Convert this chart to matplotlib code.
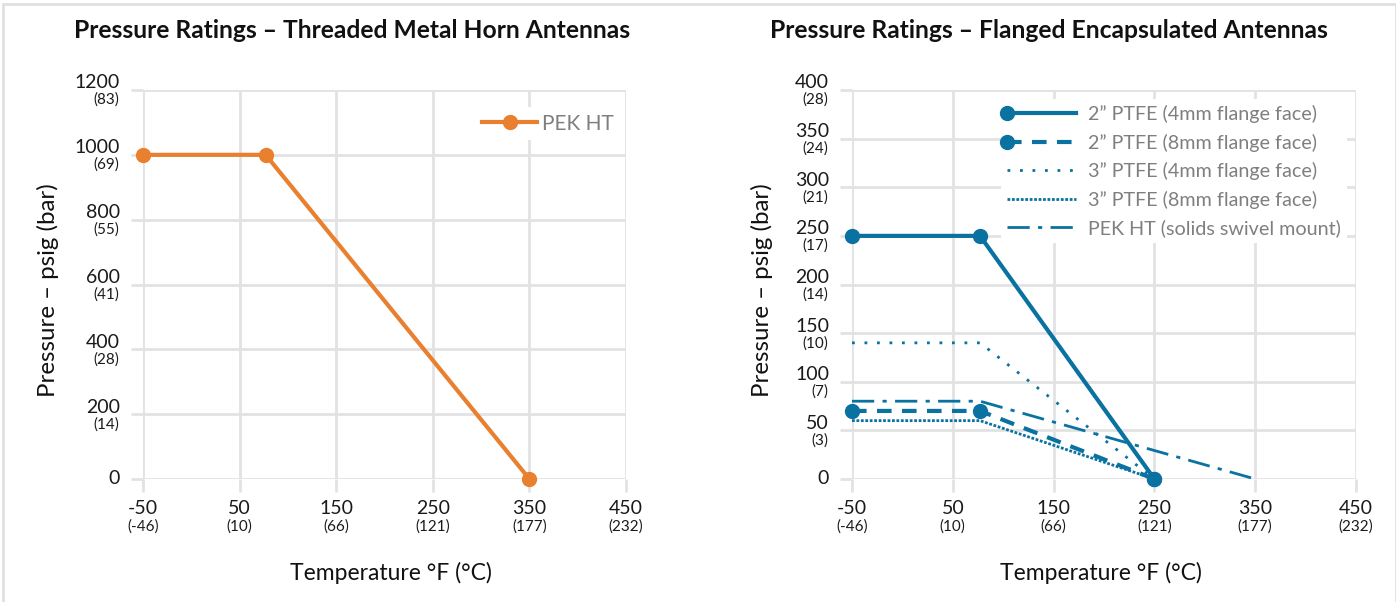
import matplotlib
matplotlib.use("Agg")
import matplotlib.pyplot as plt
import matplotlib.transforms as mtransforms
from matplotlib.legend_handler import HandlerLine2D
from matplotlib.patches import Rectangle

plt.rcParams['font.family'] = ['Lato', 'DejaVu Sans']

# x axis (deg F) and converted deg C labels
temp_f = [-50, 50, 150, 250, 350, 450]
temp_c = ['(-46)', '(10)', '(66)', '(121)', '(177)', '(232)']

# left chart: threaded metal horn
left_yticks = [0, 200, 400, 600, 800, 1000, 1200]
left_ybar = ['', '(14)', '(28)', '(41)', '(55)', '(69)', '(83)']
pek_x = [-50, 77, 350]
pek_y = [1000, 1000, 0]

# right chart: flanged encapsulated
right_yticks = [0, 50, 100, 150, 200, 250, 300, 350, 400]
right_ybar = ['', '(3)', '(7)', '(10)', '(14)', '(17)', '(21)', '(24)', '(28)']
ptfe2_4_x = [-50, 77, 250]
ptfe2_4_y = [250, 250, 0]
ptfe2_8_x = [-50, 77, 250]
ptfe2_8_y = [70, 70, 0]
ptfe3_4_x = [-50, 77, 250]
ptfe3_4_y = [140, 140, 0]
ptfe3_8_x = [-50, 77, 250]
ptfe3_8_y = [60, 60, 0]
pekss_x = [-50, 77, 350]
pekss_y = [80, 80, 0]

ORANGE = '#E9802F'
BLUE = '#0A72A0'
GRID = '#E2E2E4'

fig = plt.figure(figsize=(13.96, 6.02), dpi=100)


def px(dx, dy):
    return mtransforms.ScaledTranslation(dx / 100, dy / 100, fig.dpi_scale_trans)


class LeftMarker(HandlerLine2D):
    # put the legend marker at the left end of the handle line
    def create_artists(self, legend, orig_handle, xdescent, ydescent, width,
                       height, fontsize, trans):
        arts = super().create_artists(legend, orig_handle, xdescent, ydescent,
                                      width, height, fontsize, trans)
        for a in arts:
            a.set_markevery([0])
        return arts


def setup(ax, yticks, ybar, ymax):
    ax.set_xlim(-50, 450)
    ax.set_ylim(0, ymax)
    ax.set_xticks(temp_f)
    ax.set_yticks(yticks)
    ax.set_xticklabels([])
    ax.set_yticklabels([])
    for s in ax.spines.values():
        s.set_visible(False)
    ax.grid(True, color=GRID, linewidth=2, zorder=0)
    ax.tick_params(length=9, width=2, color=GRID)
    ax.set_axisbelow(True)
    xt = ax.get_xaxis_transform()
    for v, c in zip(temp_f, temp_c):
        ax.text(v, 0, str(v), transform=xt + px(0, -30), ha='center', va='center',
                fontsize=14, color='#1a1a1a')
        ax.text(v, 0, c, transform=xt + px(0, -48), ha='center', va='center',
                fontsize=11, color='#1a1a1a')
    yt = ax.get_yaxis_transform()
    for v, c in zip(yticks, ybar):
        if c:
            ax.text(0, v, str(v), transform=yt + px(-23, 7), ha='right', va='center',
                    fontsize=14, color='#1a1a1a')
            ax.text(0, v, c, transform=yt + px(-24, -10), ha='right', va='center',
                    fontsize=11, color='#1a1a1a')
        else:
            ax.text(0, v, str(v), transform=yt + px(-23, 0), ha='right', va='center',
                    fontsize=14, color='#1a1a1a')


# left panel
ax1 = fig.add_axes([143 / 1396, 1 - 479 / 602, 483 / 1396, 389 / 602])
setup(ax1, left_yticks, left_ybar, 1200)
ax1.plot(pek_x, pek_y, color=ORANGE, lw=3, marker='o', ms=10, label='PEK HT',
         clip_on=False, zorder=3)
leg1 = ax1.legend(loc='upper right', bbox_to_anchor=(1.01, 0.982), frameon=True,
                  facecolor='white', edgecolor='none', framealpha=1, fontsize=15,
                  handlelength=2.64, handletextpad=0.25, numpoints=1, borderpad=0.3)
for t in leg1.get_texts():
    t.set_color('#7f7f7f')

# right panel
ax2 = fig.add_axes([852 / 1396, 1 - 479 / 602, 504 / 1396, 389 / 602])
setup(ax2, right_yticks, right_ybar, 400)
h1, = ax2.plot(ptfe2_4_x, ptfe2_4_y, color=BLUE, lw=3, marker='o', ms=10,
               clip_on=False, zorder=4, label='2\u201d PTFE (4mm flange face)')
h2, = ax2.plot(ptfe2_8_x, ptfe2_8_y, color=BLUE, lw=3, marker='o', ms=10,
               ls=(0, (3.5, 2.5)), clip_on=False, zorder=4,
               label='2\u201d PTFE (8mm flange face)')
h3, = ax2.plot(ptfe3_4_x, ptfe3_4_y, color=BLUE, lw=2, ls=(0, (1, 3.5)),
               zorder=3, label='3\u201d PTFE (4mm flange face)')
h4, = ax2.plot(ptfe3_8_x, ptfe3_8_y, color=BLUE, lw=2, ls=(0, (1, 0.6)),
               zorder=3, label='3\u201d PTFE (8mm flange face)')
h5, = ax2.plot(pekss_x, pekss_y, color=BLUE, lw=2, ls=(0, (8, 3, 1.5, 3)),
               zorder=3, label='PEK HT (solids swivel mount)')
leg2 = ax2.legend(handles=[h1, h2, h3, h4, h5], loc='upper right',
                  bbox_to_anchor=(1.002, 1.002), frameon=True, facecolor='white',
                  edgecolor='none', framealpha=1, fontsize=14.2, handlelength=3.5,
                  handletextpad=0.65, numpoints=1, labelspacing=0.53, borderpad=0.3,
                  handler_map={h1: LeftMarker(), h2: LeftMarker()})
leg2.set_zorder(2.5)
for t in leg2.get_texts():
    t.set_color('#7f7f7f')

# titles and axis labels
fig.text(352 / 1396, 1 - 30 / 602, 'Pressure Ratings \u2013 Threaded Metal Horn Antennas',
         ha='center', va='center', fontsize=17.7, fontweight='bold', color='#111111')
fig.text(1049 / 1396, 1 - 30 / 602, 'Pressure Ratings \u2013 Flanged Encapsulated Antennas',
         ha='center', va='center', fontsize=17.7, fontweight='bold', color='#111111')
fig.text(48 / 1396, 1 - 290 / 602, 'Pressure \u2013 psig (bar)', rotation=90,
         ha='center', va='center', fontsize=17.3, color='#111111')
fig.text(762 / 1396, 1 - 290 / 602, 'Pressure \u2013 psig (bar)', rotation=90,
         ha='center', va='center', fontsize=17.3, color='#111111')
fig.text(391 / 1396, 1 - 573 / 602, 'Temperature \u00b0F (\u00b0C)',
         ha='center', va='center', fontsize=16.5, color='#111111')
fig.text(1101 / 1396, 1 - 573 / 602, 'Temperature \u00b0F (\u00b0C)',
         ha='center', va='center', fontsize=16.5, color='#111111')

# light frame around the figure
fig.patches.append(Rectangle((3 / 1396, -0.02), 1 - 3 / 1396, 1.02 - 4 / 602,
                             transform=fig.transFigure, fill=False,
                             edgecolor='#E0E0E0', linewidth=2))

fig.savefig('out.png', dpi=100)
